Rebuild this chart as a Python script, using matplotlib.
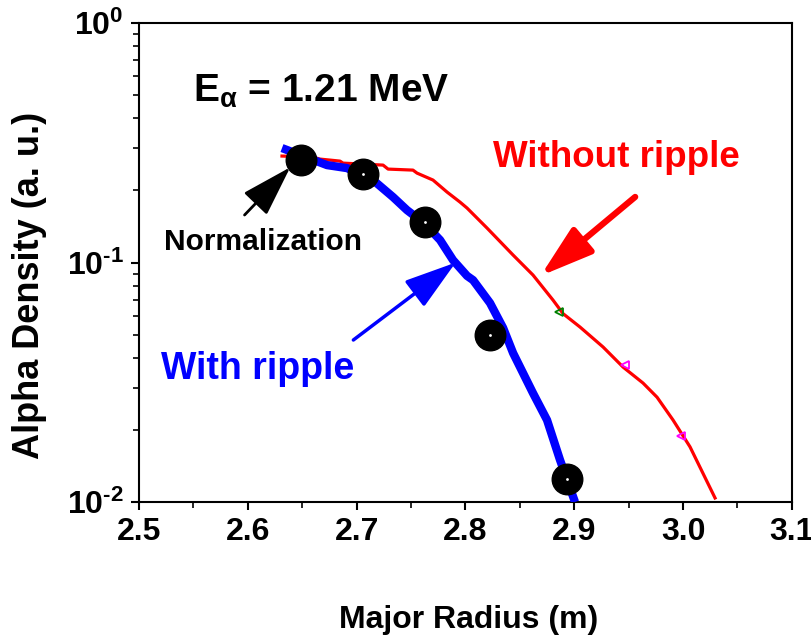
import numpy as np
import matplotlib
matplotlib.use("Agg")
import matplotlib.pyplot as plt

plt.rcParams['font.family'] = ['Liberation Sans', 'DejaVu Sans']
plt.rcParams['font.weight'] = 'bold'
plt.rcParams['mathtext.fontset'] = 'custom'
plt.rcParams['mathtext.rm'] = 'Liberation Sans:bold'
plt.rcParams['mathtext.bf'] = 'Liberation Sans:bold'
plt.rcParams['mathtext.it'] = 'Liberation Sans:bold'

# with ripple (blue curve)
r_with = [2.6314, 2.6728, 2.6912, 2.7151, 2.7335, 2.7463, 2.7619, 2.7767,
          2.7886, 2.8015, 2.8070, 2.8226, 2.8346, 2.8438, 2.8621, 2.8750,
          2.8869, 2.9007]
n_with = [0.3007, 0.2553, 0.2480, 0.2211, 0.1877, 0.1656, 0.1462, 0.1242,
          0.1024, 0.0880, 0.0845, 0.0678, 0.0534, 0.0419, 0.0285, 0.0220,
          0.0150, 0.0100]

# without ripple (red curve)
r_without = [2.6314, 2.6599, 2.6664, 2.6847, 2.6875, 2.7243, 2.7289, 2.7518,
             2.7555, 2.7702, 2.7831, 2.7950, 2.8015, 2.8199, 2.8438, 2.8621,
             2.8805, 2.8897, 2.9053, 2.9265, 2.9449, 2.9632, 2.9761, 2.9908,
             3.0064, 3.0294]
n_without = [0.2785, 0.2758, 0.2705, 0.2653, 0.2602, 0.2553, 0.2457, 0.2433,
             0.2364, 0.2211, 0.1970, 0.1789, 0.1689, 0.1393, 0.1075, 0.0887,
             0.0697, 0.0612, 0.0538, 0.0444, 0.0366, 0.0314, 0.0274, 0.0220,
             0.0170, 0.0104]

# measured points (black dots)
r_meas = [2.649, 2.706, 2.763, 2.823, 2.893]
n_meas = [0.268, 0.234, 0.148, 0.0498, 0.0125]

# small open markers on red curve
r_mark_g = [2.886]
n_mark_g = [0.0620]
r_mark_m = [2.947, 2.998]
n_mark_m = [0.0373, 0.0188]

fig = plt.figure(figsize=(8.11, 6.42), dpi=100)
ax = fig.add_axes([0.1714, 0.218, 0.805, 0.746])

ax.plot(r_without, n_without, color='red', lw=2.3, zorder=2)
ax.plot(r_with, n_with, color='blue', lw=6, zorder=3, solid_capstyle='butt')
ax.plot(r_mark_g, n_mark_g, ls='none', marker='<', ms=6, mfc='none',
        mec='green', mew=1.3, zorder=4)
ax.plot(r_mark_m, n_mark_m, ls='none', marker='<', ms=6, mfc='none',
        mec='magenta', mew=1.3, zorder=4)
ax.plot(r_meas, n_meas, ls='none', marker='o', ms=22, color='black', zorder=5)
ax.plot(r_meas[1:], n_meas[1:], ls='none', marker='o', ms=2, color='white',
        mec='none', zorder=6)

ax.set_yscale('log')
ax.set_xlim(2.5, 3.1)
ax.set_ylim(0.01, 1)
ax.set_xticks([2.5, 2.6, 2.7, 2.8, 2.9, 3.0, 3.1])
ax.set_xticklabels(['2.5', '2.6', '2.7', '2.8', '2.9', '3.0', '3.1'])
ax.set_xticks(np.arange(2.55, 3.1, 0.1), minor=True)
ax.set_yticks([0.01, 0.1, 1])
ax.set_yticklabels([r'$10^{\text{-}2}$', r'$10^{\text{-}1}$', r'$10^{0}$'])

ax.tick_params(axis='both', which='major', direction='out', length=6,
               width=1.5, labelsize=23, pad=5)
ax.tick_params(axis='both', which='minor', direction='out', length=4,
               width=1.2, labelleft=False)
ax.tick_params(top=False, right=False, which='both')
for s in ax.spines.values():
    s.set_linewidth(1.5)

ax.set_xlabel('Major Radius (m)', fontsize=23, fontweight='bold')
ax.xaxis.set_label_coords(0.505, -0.215)
ax.set_ylabel('Alpha Density (a. u.)', fontsize=26, fontweight='bold',
              va='center')
ax.yaxis.set_label_coords(-0.167, 0.453)

ax.text(2.55, 0.52, r'E$_\alpha$ = 1.21 MeV', fontsize=28, fontweight='bold',
        va='center', ha='left')
ax.text(2.825, 0.275, 'Without ripple', fontsize=26.5, fontweight='bold',
        color='red', va='center', ha='left')
ax.text(2.52, 0.036, 'With ripple', fontsize=27, fontweight='bold',
        color='blue', va='center', ha='left')
ax.text(2.523, 0.122, 'Normalization', fontsize=21.5, fontweight='bold',
        color='black', va='center', ha='left')

head = '-|>,head_length=1.6,head_width=0.5'
ax.annotate('', xy=(2.639, 0.250), xytext=(2.597, 0.158),
            arrowprops=dict(arrowstyle=head, mutation_scale=20,
                            color='black', lw=2, shrinkA=0, shrinkB=0))
ax.annotate('', xy=(2.791, 0.100), xytext=(2.697, 0.0475),
            arrowprops=dict(arrowstyle=head, mutation_scale=20,
                            color='blue', lw=2.5, shrinkA=0, shrinkB=0))
ax.annotate('', xy=(2.869, 0.0880), xytext=(2.956, 0.188),
            arrowprops=dict(arrowstyle=head, mutation_scale=20,
                            color='red', lw=4.5, shrinkA=0, shrinkB=0))

fig.savefig('out.png', dpi=100)
